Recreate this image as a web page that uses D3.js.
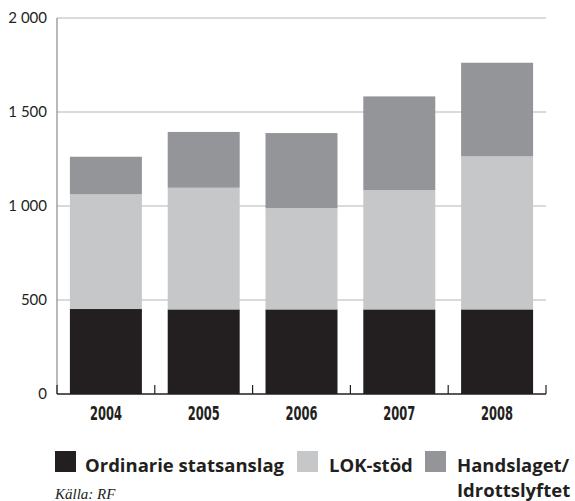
<!DOCTYPE html>
<html>
<head>
<meta charset="utf-8">
<script src="https://cdn.jsdelivr.net/npm/d3@7"></script>
<style>
  body { margin: 0; background: #fff; }
  svg { display: block; }
</style>
</head>
<body>
<div id="viz"></div>
<script>
// data
const years = ["2004", "2005", "2006", "2007", "2008"]
const ordinarie = [452, 450, 450, 450, 450]
const lok = [610, 647, 539, 635, 814]
const handslaget = [200, 297, 399, 498, 498]
const seriesNames = ["Ordinarie statsanslag", "LOK-stöd", "Handslaget/"]
const yTicks = [0, 500, 1000, 1500, 2000]
const yTickLabels = ["0", "500", "1 000", "1 500", "2 000"]

const width = 575
const height = 501
const margin = { top: 18, right: 29, bottom: 107, left: 57 }
const colors = ["#231f20", "#c6c7c9", "#939598"]

const rows = years.map((y, i) => ({ year: y, a: ordinarie[i], b: lok[i], c: handslaget[i] }))
const stacked = d3.stack().keys(["a", "b", "c"])(rows)

const svg = d3.select("#viz").append("svg")
  .attr("width", width)
  .attr("height", height)

const x = d3.scaleBand()
  .domain(years)
  .range([margin.left, width - margin.right])
  .paddingInner(0.264)
  .paddingOuter(0.132)

const y = d3.scaleLinear()
  .domain([0, 2000])
  .range([height - margin.bottom, margin.top])

// gridlines
svg.append("g")
  .selectAll("line")
  .data(yTicks.slice(1))
  .enter()
  .append("line")
    .attr("x1", margin.left)
    .attr("x2", width - margin.right)
    .attr("y1", d => y(d))
    .attr("y2", d => y(d))
    .attr("stroke", "#b5b6b8")
    .attr("stroke-width", 1.2)

// y axis line
svg.append("line")
  .attr("x1", margin.left).attr("x2", margin.left)
  .attr("y1", y(2000)).attr("y2", y(0))
  .attr("stroke", "#8a8b8d")
  .attr("stroke-width", 1.2)

// y labels
svg.append("g")
  .selectAll("text")
  .data(yTicks)
  .enter()
  .append("text")
    .attr("x", 47)
    .attr("y", d => y(d) + 5)
    .attr("text-anchor", "end")
    .attr("font-family", "Lato, 'Open Sans', sans-serif")
    .attr("font-size", 15)
    .attr("fill", "#231f20")
    .text((d, i) => yTickLabels[i])

// bars
svg.append("g")
  .selectAll("g")
  .data(stacked)
  .enter()
  .append("g")
    .attr("fill", (d, i) => colors[i])
  .selectAll("rect")
  .data(d => d)
  .enter()
  .append("rect")
    .attr("x", d => x(d.data.year))
    .attr("width", x.bandwidth())
    .attr("y", d => y(d[1]))
    .attr("height", d => y(d[0]) - y(d[1]))

// x axis baseline with upward ticks at band edges
const base = y(0)
svg.append("line")
  .attr("x1", margin.left).attr("x2", width - margin.right)
  .attr("y1", base).attr("y2", base)
  .attr("stroke", "#231f20")
  .attr("stroke-width", 1.4)

const step = x.step()
const edges = d3.range(years.length + 1).map(i => margin.left + i * step)
svg.append("g")
  .selectAll("line")
  .data(edges)
  .enter()
  .append("line")
    .attr("x1", d => d).attr("x2", d => d)
    .attr("y1", base).attr("y2", base - 9)
    .attr("stroke", "#231f20")
    .attr("stroke-width", 1.2)

// x labels (condensed)
svg.append("g")
  .selectAll("text")
  .data(years)
  .enter()
  .append("text")
    .attr("x", d => x(d) + x.bandwidth() / 2)
    .attr("y", 420)
    .attr("text-anchor", "middle")
    .attr("font-family", "'Liberation Sans Narrow', 'DejaVu Sans Condensed', sans-serif")
    .attr("font-weight", "bold")
    .attr("font-size", 20)
    .attr("textLength", 32)
    .attr("lengthAdjust", "spacingAndGlyphs")
    .attr("fill", "#231f20")
    .text(d => d)

// legend
const legendX = [55, 297, 425]
const legend = svg.append("g")
  .selectAll("g")
  .data(seriesNames)
  .enter()
  .append("g")
    .attr("transform", (d, i) => `translate(${legendX[i]},451)`)

legend.append("rect")
  .attr("width", 21)
  .attr("height", 21)
  .attr("fill", (d, i) => colors[i])

legend.append("text")
  .attr("x", (d, i) => i === 2 ? 32 : (i === 1 ? 32 : 30))
  .attr("y", 21)
  .attr("font-family", "'Open Sans', sans-serif")
  .attr("font-weight", "bold")
  .attr("font-size", 18.5)
  .attr("fill", "#231f20")
  .text(d => d)

svg.append("text")
  .attr("x", 457)
  .attr("y", 497)
  .attr("font-family", "'Open Sans', sans-serif")
  .attr("font-weight", "bold")
  .attr("font-size", 18.5)
  .attr("fill", "#231f20")
  .text("Idrottslyftet")

// source
svg.append("text")
  .attr("x", 55)
  .attr("y", 499)
  .attr("font-family", "'Liberation Serif', serif")
  .attr("font-style", "italic")
  .attr("font-size", 15)
  .attr("fill", "#231f20")
  .text("Källa: RF")
</script>
</body>
</html>
